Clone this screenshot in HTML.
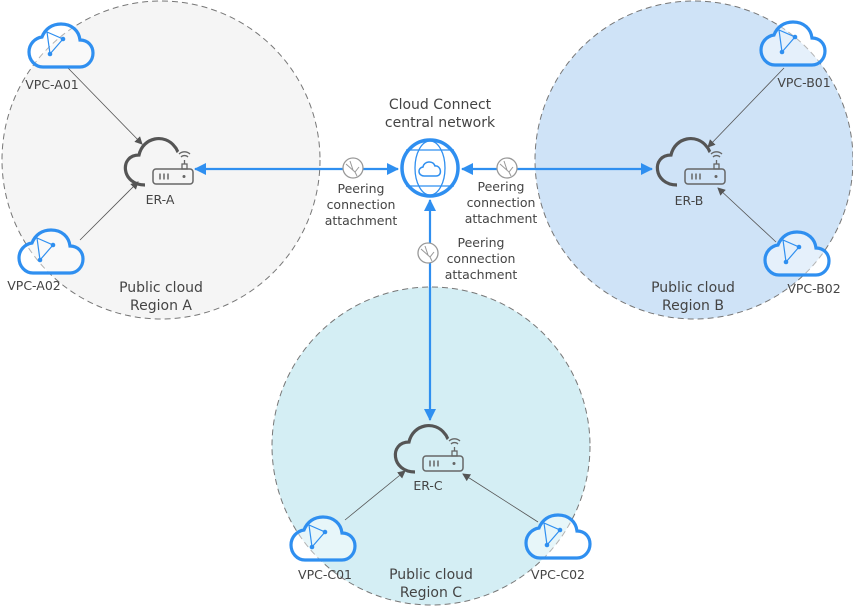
<!DOCTYPE html>
<html><head><meta charset="utf-8"><style>
html,body{margin:0;padding:0;background:#fff}
svg{display:block}
text{font-family:"DejaVu Sans","Liberation Sans",sans-serif;font-size:12.5px;fill:#444}
text.big{font-size:14px}
</style></head><body>
<svg width="853" height="606" viewBox="0 0 853 606" xmlns="http://www.w3.org/2000/svg">
<defs>
<g id="vpc">
<path d="M15 45 C7 45 1 38 1 30 C1 22 7 16 14 15 C17 7 24 2 33 2 C44 2 51 9 52 18 C60 18 65 24 65 31 C65 39 59 45 52 45 Z" fill="rgba(255,255,255,0.45)" stroke="#2f8ff0" stroke-width="3.2"/>
<path d="M19 10 L35 17 L22 32 Z" fill="none" stroke="#2f8ff0" stroke-width="1.2"/>
<circle cx="35" cy="17" r="2.3" fill="#2f8ff0"/><circle cx="22" cy="32" r="2.3" fill="#2f8ff0"/>
</g>
<g id="er">
<path d="M-8 16 C-32 16 -34 -14 -14 -14 C-10 -32 12 -36 22 -22 C24 -20 24 -18 25 -17" fill="none" stroke="#555" stroke-width="3.2"/>
<rect x="0" y="0" width="40" height="15" rx="3" fill="none" stroke="#666" stroke-width="1.5"/>
<line x1="7" y1="4.5" x2="7" y2="10.5" stroke="#666" stroke-width="1.5"/>
<line x1="11" y1="4.5" x2="11" y2="10.5" stroke="#666" stroke-width="1.5"/>
<line x1="15" y1="4.5" x2="15" y2="10.5" stroke="#666" stroke-width="1.5"/>
<circle cx="31" cy="7.5" r="1.5" fill="#666"/>
<rect x="29" y="-5" width="5" height="5" fill="none" stroke="#666" stroke-width="1.3"/>
<line x1="31.5" y1="-5" x2="31.5" y2="-9" stroke="#666" stroke-width="1.3"/>
<path d="M28 -12 A5 5 0 0 1 35 -12" fill="none" stroke="#666" stroke-width="1.3"/>
<path d="M26 -15 A8 8 0 0 1 37 -15" fill="none" stroke="#666" stroke-width="1.3"/>
</g>
<g id="peer">
<circle cx="0" cy="0" r="10" fill="#fff" stroke="#999" stroke-width="1.3"/>
<path d="M-7 -4 L2 4 L6 -1 M2 4 L4 8 M-3 -7 L0 2" fill="none" stroke="#999" stroke-width="1"/>
</g>
<marker id="ga" markerWidth="8" markerHeight="8" refX="7" refY="4" orient="auto" markerUnits="userSpaceOnUse"><path d="M0 0 L8 4 L0 8 Z" fill="#555"/></marker>
<marker id="ba" markerWidth="12" markerHeight="12" refX="11" refY="6" orient="auto-start-reverse" markerUnits="userSpaceOnUse"><path d="M0 0 L12 6 L0 12 Z" fill="#2f8ff0"/></marker>
</defs>
<circle cx="161" cy="160" r="159" fill="#f5f5f5" stroke="#777" stroke-width="1" stroke-dasharray="6 4"/>
<circle cx="694" cy="160" r="159" fill="#cfe3f7" stroke="#777" stroke-width="1" stroke-dasharray="6 4"/>
<circle cx="431" cy="446" r="159" fill="#d4eef4" stroke="#777" stroke-width="1" stroke-dasharray="6 4"/>

<line x1="195" y1="169" x2="398" y2="169" stroke="#2f8ff0" stroke-width="2.2" marker-end="url(#ba)" marker-start="url(#ba)"/>
<line x1="652" y1="169" x2="462" y2="169" stroke="#2f8ff0" stroke-width="2.2" marker-end="url(#ba)" marker-start="url(#ba)"/>
<line x1="430" y1="420" x2="430" y2="200" stroke="#2f8ff0" stroke-width="2.2" marker-end="url(#ba)" marker-start="url(#ba)"/>

<circle cx="430" cy="168" r="28" fill="#fff" stroke="#2f8ff0" stroke-width="3.5"/>
<ellipse cx="430" cy="168" rx="15" ry="27" fill="none" stroke="#2f8ff0" stroke-width="1.3"/>
<line x1="406" y1="150" x2="454" y2="150" stroke="#2f8ff0" stroke-width="1.3"/>
<line x1="406" y1="186" x2="454" y2="186" stroke="#2f8ff0" stroke-width="1.3"/>
<path d="M424 176 C418 176 417 168 423 167 C424 161 433 160 435 166 C441 165 443 176 436 176 Z" fill="none" stroke="#2f8ff0" stroke-width="1.5"/>
<text class="big" x="440" y="109" text-anchor="middle">Cloud Connect</text>
<text class="big" x="440" y="127" text-anchor="middle">central network</text>

<use href="#peer" x="353" y="168"/>
<use href="#peer" x="507" y="168"/>
<use href="#peer" x="428" y="253"/>
<text x="361" y="193" text-anchor="middle">Peering</text>
<text x="361" y="209" text-anchor="middle">connection</text>
<text x="361" y="225" text-anchor="middle">attachment</text>
<text x="501" y="191" text-anchor="middle">Peering</text>
<text x="501" y="207" text-anchor="middle">connection</text>
<text x="501" y="223" text-anchor="middle">attachment</text>
<text x="481" y="247" text-anchor="middle">Peering</text>
<text x="481" y="263" text-anchor="middle">connection</text>
<text x="481" y="279" text-anchor="middle">attachment</text>

<line x1="68" y1="68" x2="142" y2="144" stroke="#555" stroke-width="0.8" marker-end="url(#ga)"/>
<line x1="80" y1="240" x2="138" y2="182" stroke="#555" stroke-width="0.8" marker-end="url(#ga)"/>
<line x1="784" y1="68" x2="708" y2="147" stroke="#555" stroke-width="0.8" marker-end="url(#ga)"/>
<line x1="776" y1="242" x2="718" y2="188" stroke="#555" stroke-width="0.8" marker-end="url(#ga)"/>
<line x1="345" y1="520" x2="405" y2="471" stroke="#555" stroke-width="0.8" marker-end="url(#ga)"/>
<line x1="538" y1="522" x2="463" y2="474" stroke="#555" stroke-width="0.8" marker-end="url(#ga)"/>

<use href="#er" x="153" y="169"/>
<use href="#er" x="685" y="169"/>
<use href="#er" x="423" y="456"/>
<text x="160" y="204" text-anchor="middle">ER-A</text>
<text x="689" y="205" text-anchor="middle">ER-B</text>
<text x="428" y="490" text-anchor="middle">ER-C</text>

<use href="#vpc" x="28" y="22"/>
<use href="#vpc" x="18" y="228"/>
<use href="#vpc" x="760" y="20"/>
<use href="#vpc" x="764" y="230"/>
<use href="#vpc" x="290" y="515"/>
<use href="#vpc" x="525" y="513"/>
<text x="52" y="89" text-anchor="middle">VPC-A01</text>
<text x="34" y="290" text-anchor="middle">VPC-A02</text>
<text x="804" y="87" text-anchor="middle">VPC-B01</text>
<text x="814" y="293" text-anchor="middle">VPC-B02</text>
<text x="325" y="579" text-anchor="middle">VPC-C01</text>
<text x="558" y="579" text-anchor="middle">VPC-C02</text>

<text class="big" x="161" y="292" text-anchor="middle">Public cloud</text>
<text class="big" x="161" y="310" text-anchor="middle">Region A</text>
<text class="big" x="693" y="292" text-anchor="middle">Public cloud</text>
<text class="big" x="693" y="310" text-anchor="middle">Region B</text>
<text class="big" x="431" y="579" text-anchor="middle">Public cloud</text>
<text class="big" x="431" y="597" text-anchor="middle">Region C</text>
</svg>
</body></html>
